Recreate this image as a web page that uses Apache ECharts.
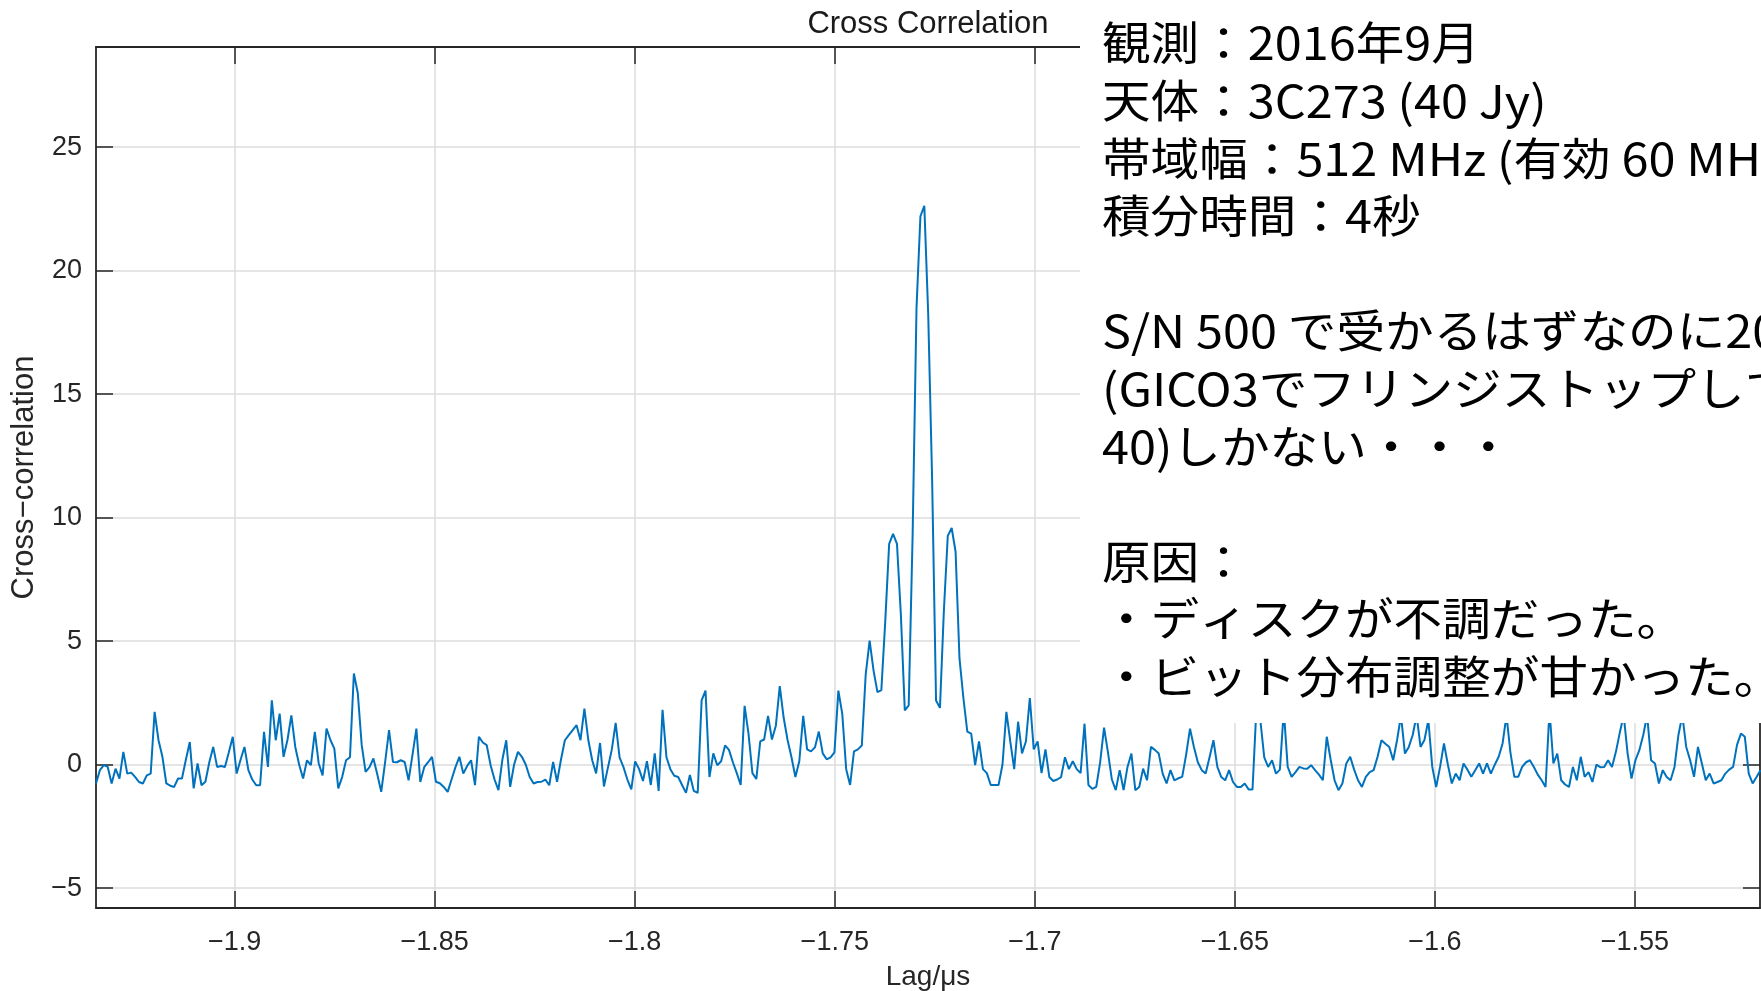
<!DOCTYPE html>
<html><head><meta charset="utf-8">
<script src="https://cdn.jsdelivr.net/npm/echarts@6/dist/echarts.min.js"></script>
<style>html,body{margin:0;padding:0;background:#fff;overflow:hidden;width:1761px;height:991px;} #chart{position:absolute;left:0;top:0;width:1761px;height:991px;}</style>
</head><body><div id="chart"></div>
<script>
// ---- data ----
const lagStart = -1.93465;          // µs, first sample
const lagStep = 1 / 1024;           // µs, sample spacing
const corr = [
-0.76,-0.22,-0.02,-0.09,-0.76,-0.16,-0.56,0.52,-0.36,-0.32,
-0.49,-0.70,-0.76,-0.43,-0.36,2.14,0.99,0.32,-0.76,-0.85,
-0.90,-0.56,-0.56,0.20,0.92,-0.96,0.05,-0.83,-0.69,0.10,
0.72,-0.09,-0.05,-0.09,0.50,1.13,-0.36,0.20,0.72,-0.22,
-0.60,-0.83,-0.83,1.33,-0.09,2.61,0.99,2.07,0.32,1.00,
2.00,0.72,0.00,-0.56,0.18,-0.02,1.33,0.05,-0.43,1.46,
1.00,0.65,-0.96,-0.50,0.18,0.30,3.69,2.90,0.80,-0.29,
-0.10,0.25,-0.40,-1.10,0.10,1.40,0.11,0.10,0.18,0.11,
-0.63,0.40,1.46,-0.70,-0.10,0.10,0.32,-0.69,-0.75,-0.90,
-1.10,-0.60,-0.10,0.32,-0.36,-0.05,0.18,-0.83,1.13,0.90,
0.79,-0.02,-0.60,-1.03,0.20,0.99,-0.90,0.00,0.52,0.32,
0.00,-0.50,-0.76,-0.70,-0.69,-0.60,-0.83,0.11,-0.69,0.20,
0.99,1.20,1.40,1.60,0.99,2.27,1.00,0.18,-0.35,0.88,
-0.88,-0.13,0.60,1.69,0.30,-0.10,-0.60,-1.00,0.13,-0.18,
-0.66,0.14,-0.82,0.46,-1.06,2.22,0.30,-0.18,-0.45,-0.50,
-0.82,-1.14,-0.42,-1.06,-1.14,2.60,3.00,-0.50,0.46,-0.02,
0.14,0.78,0.60,0.10,-0.34,-0.82,2.38,1.26,-0.34,-0.58,
0.94,1.02,1.98,1.02,1.58,3.18,1.90,1.00,0.30,-0.50,
0.14,1.98,0.62,0.54,0.70,1.34,0.46,0.22,0.30,0.50,
3.00,2.06,-0.18,-0.82,0.54,0.62,0.78,3.66,5.02,3.82,
2.94,3.02,5.80,8.94,9.34,8.94,6.06,2.20,2.40,9.26,
18.50,22.20,22.62,18.20,11.50,2.60,2.30,6.22,9.26,9.58,
8.62,4.30,2.70,1.34,1.26,-0.02,0.94,-0.18,-0.34,-0.82,
-0.82,-0.82,0.00,2.14,0.94,-0.18,1.74,0.46,0.94,2.70,
0.62,0.94,-0.34,0.62,-0.50,-0.66,-0.60,-0.50,0.30,-0.18,
0.14,-0.18,-0.34,1.66,-0.82,-0.98,-0.90,0.10,1.50,0.50,
-0.60,-1.03,-0.22,-1.03,-0.09,0.45,-1.03,-0.90,-0.16,-0.63,
0.72,0.60,0.45,-0.36,-0.76,-0.22,-0.63,-0.55,-0.49,0.40,
1.46,0.72,0.10,-0.22,-0.36,0.30,0.99,-0.09,-0.50,-0.63,
-0.22,-0.70,-0.90,-0.90,-0.76,-1.00,-1.00,2.30,1.80,0.30,
-0.09,0.18,-0.36,-0.20,2.20,-0.09,-0.49,-0.30,-0.09,-0.15,
-0.16,-0.02,-0.22,-0.40,-0.63,1.13,0.20,-0.63,-1.03,-0.76,
0.05,0.32,-0.20,-0.63,-0.90,-0.49,-0.30,-0.22,0.32,0.99,
0.85,0.72,0.18,1.00,2.00,0.45,0.72,1.20,2.00,0.72,
1.00,1.80,-0.09,-0.90,-0.09,0.86,0.00,-0.76,-0.36,-0.63,
0.05,-0.20,-0.49,-0.22,0.05,-0.36,0.05,-0.36,0.00,0.32,
0.86,2.00,0.50,-0.49,-0.49,-0.09,0.10,0.18,-0.09,-0.40,
-0.63,-0.90,2.20,0.05,0.45,-0.63,-0.80,-0.90,-0.09,-0.63,
0.32,-0.49,-0.30,-0.70,0.00,-0.10,-0.09,0.18,-0.09,0.52,
1.30,2.00,0.45,-0.56,0.18,0.59,1.20,2.00,0.18,0.05,
-0.76,-0.22,-0.50,-0.63,-0.09,1.20,2.00,0.72,0.18,-0.49,
0.72,0.05,-0.63,-0.36,-0.76,-0.70,-0.63,-0.36,-0.20,-0.09,
0.80,1.26,1.13,-0.36,-0.76,-0.50,-0.22
];
const xTickValues = [-1.9, -1.85, -1.8, -1.75, -1.7, -1.65, -1.6, -1.55];
const yTickValues = [-5, 0, 5, 10, 15, 20, 25];
const xRange = [-1.93465, -1.51875];
const yRange = [-5.8, 29.05];
const titleText = 'Cross Correlation';
const xName = 'Lag/μs';
const yName = 'Cross−correlation';
const noteLines = [
  '観測：2016年9月',
  '天体：3C273 (40 Jy)',
  '帯域幅：512 MHz (有効 60 MHz)',
  '積分時間：4秒',
  '',
  'S/N 500 で受かるはずなのに20',
  '(GICO3でフリンジストップしても',
  '40)しかない・・・',
  '',
  '原因：',
  '・ディスクが不調だった。',
  '・ビット分布調整が甘かった。'
];

// ---- chart ----
const points = corr.map((v, i) => [lagStart + i * lagStep, v]);
const fmt = v => String(v).replace('-', '\u2212');
const AX = '#262626';
const FONT = '"Liberation Sans", Arial, sans-serif';
const lineS = { color: AX, width: 1.8 };
const tickS = { color: AX, width: 1.5 };
const gridS = { color: '#dcdcdc', width: 1.5 };

const chart = echarts.init(document.getElementById('chart'), null, { renderer: 'canvas', width: 1761, height: 991 });
chart.setOption({
  animation: false,
  backgroundColor: '#ffffff',
  grid: { left: 96, width: 1664, top: 47, height: 861, containLabel: false, outerBoundsMode: 'none' },
  xAxis: [
    {
      type: 'value', position: 'bottom', min: xRange[0], max: xRange[1],
      axisLine: { show: true, onZero: false, lineStyle: lineS },
      axisTick: { show: true, inside: true, length: 17, customValues: xTickValues, lineStyle: tickS },
      axisLabel: { show: true, customValues: xTickValues, formatter: fmt, margin: 21,
        fontFamily: FONT, fontSize: 27, color: AX },
      splitLine: { show: true, lineStyle: gridS },
      name: xName, nameLocation: 'middle', nameGap: 55,
      nameTextStyle: { fontFamily: FONT, fontSize: 28, color: AX }
    },
    {
      type: 'value', position: 'top', min: xRange[0], max: xRange[1],
      axisLine: { show: true, onZero: false, lineStyle: lineS },
      axisTick: { show: true, inside: true, length: 17, customValues: xTickValues, lineStyle: tickS },
      axisLabel: { show: false },
      splitLine: { show: false }
    }
  ],
  yAxis: [
    {
      type: 'value', position: 'left', min: yRange[0], max: yRange[1],
      axisLine: { show: true, onZero: false, lineStyle: lineS },
      axisTick: { show: true, inside: true, length: 17, customValues: yTickValues, lineStyle: tickS },
      axisLabel: { show: true, customValues: yTickValues, formatter: fmt, margin: 14,
        fontFamily: FONT, fontSize: 27, color: AX },
      splitLine: { show: true, lineStyle: gridS },
      name: yName, nameLocation: 'middle', nameGap: 55,
      nameTextStyle: { fontFamily: FONT, fontSize: 31, color: AX }
    },
    {
      type: 'value', position: 'right', min: yRange[0], max: yRange[1],
      axisLine: { show: true, onZero: false, lineStyle: lineS },
      axisTick: { show: true, inside: true, length: 17, customValues: yTickValues, lineStyle: tickS },
      axisLabel: { show: false },
      splitLine: { show: false }
    }
  ],
  series: [{
    type: 'line', data: points, xAxisIndex: 0, yAxisIndex: 0,
    showSymbol: false, symbol: 'none', silent: true, clip: true, z: 3,
    lineStyle: { color: '#0072BD', width: 2 }, itemStyle: { color: '#0072BD' }
  }],
  graphic: [
    { type: 'rect', x: 1080, y: 0, shape: { x: 0, y: 0, width: 681, height: 723 },
      style: { fill: '#ffffff' }, z: 100, silent: true },
    { type: 'text', x: 1102, y: 14.5, scaleX: 1.08, z: 101, silent: true,
      style: { text: noteLines.join('\n'), font: '45px "Noto Sans CJK JP", sans-serif', lineHeight: 57.6,
        fill: '#000000', textAlign: 'left', textVerticalAlign: 'top' } },
    { type: 'text', x: 928, y: 24, z: 101, silent: true,
      style: { text: titleText, font: '31px "Liberation Sans", Arial, sans-serif', fill: '#1a1a1a',
        textAlign: 'center', textVerticalAlign: 'middle' } }
  ]
});
</script>
</body></html>
